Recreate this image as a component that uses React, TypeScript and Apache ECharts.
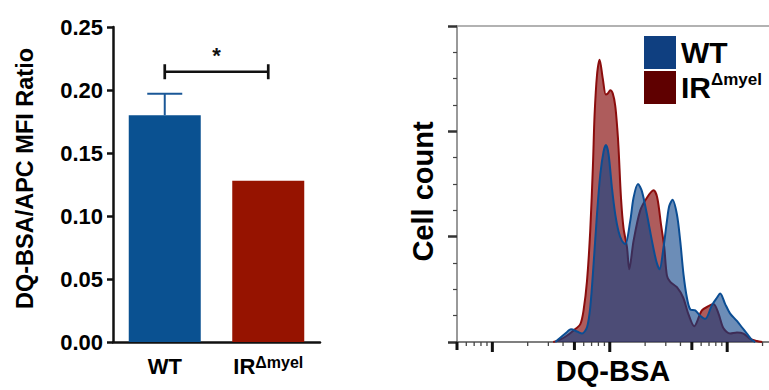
import React, { useEffect, useRef } from 'react';
import * as echarts from 'echarts';

const FONT = '"Liberation Sans", Arial, Helvetica, sans-serif';

// ---- Left panel: bar chart ----
const barCategories = ['WT', 'IRΔmyel'];
const barValues = [0.18, 0.128];
const barUpperErrors = [0.017, 0];
const barColors = ['#0a5191', '#961300'];
const sigPair = [0, 1];
const sigLevel = 0.2145;
const sigStarLevel = 0.227;
const sigLabel = '*';

// ---- Right panel: DQ-BSA histogram ----
const histSeriesNames = ['WT', 'IRΔmyel'];
// [DQ-BSA intensity, cell count]
const histWT: number[][] = [
  [344, 0], [379, 4], [418, 8], [468, 12], [526, 10], [580, 8], [640, 14], [682, 33],
  [728, 74], [778, 121], [830, 159], [886, 181], [929, 187], [977, 178], [1044, 146],
  [1114, 121], [1188, 105], [1270, 96], [1355, 93], [1494, 115], [1594, 137], [1738, 150],
  [1879, 143], [2073, 121], [2287, 96], [2487, 77], [2653, 69], [2870, 90], [3068, 115],
  [3209, 129], [3424, 135], [3732, 121], [3981, 96], [4248, 64], [4539, 42], [4843, 31],
  [5342, 30], [5891, 25], [6500, 22], [7413, 35], [8174, 42], [8718, 46], [9616, 36],
  [10605, 27], [12094, 20], [13340, 14], [14714, 8], [16233, 2], [17310, 0],
];
const histIR: number[][] = [
  [330, 0], [355, 1], [418, 5], [492, 11], [561, 17], [598, 30], [640, 58], [682, 106],
  [719, 168], [742, 215], [778, 253], [819, 268], [872, 250], [925, 235], [962, 236],
  [1009, 239], [1060, 236], [1114, 224], [1158, 203], [1188, 184], [1246, 137], [1310, 108],
  [1401, 90], [1466, 69], [1594, 96], [1818, 125], [2073, 137], [2359, 144], [2537, 137],
  [2728, 112], [2910, 90], [3068, 63], [3273, 57], [3732, 52], [4222, 42], [4656, 27],
  [5236, 15], [6090, 30], [6933, 34], [7645, 36], [8433, 27], [9300, 13], [10605, 8],
  [12094, 9], [13764, 8], [15693, 3], [17890, 1], [19859, 0],
];
const histMajorTicks = [100, 1000, 10000];
const histHalfTicks = [50, 500, 5000];
const histMinorTicks = [60, 70, 80, 90, 200, 300, 400, 600, 700, 800, 900, 2000, 3000, 4000, 6000, 7000, 8000, 9000, 20000];

const fmtLabel = (name: string) =>
  name.startsWith('IR') ? `{m|IR}{s|${name.slice(2)}}` : `{m|${name}}`;

export default function App() {
  const ref = useRef<HTMLDivElement>(null);

  useEffect(() => {
    if (!ref.current) return;
    const chart = echarts.init(ref.current, undefined, { renderer: 'svg' });

    const tickData = [
      ...histMajorTicks.map((v) => [v, 2]),
      ...histHalfTicks.map((v) => [v, 1]),
      ...histMinorTicks.map((v) => [v, 0]),
    ];

    const option: any = {
      animation: false,
      textStyle: { fontFamily: FONT },
      grid: [
        { left: 113, top: 27, width: 207, height: 315 },
        { left: 457, top: 26, right: 0, height: 319 },
      ],
      legend: {
        data: [
          { name: histSeriesNames[0], itemStyle: { color: '#0f3f80' } },
          { name: histSeriesNames[1], itemStyle: { color: '#5f0000' } },
        ],
        orient: 'vertical',
        left: 644,
        top: 36,
        padding: 0,
        itemWidth: 32,
        itemHeight: 33,
        itemGap: 2,
        icon: 'rect',
        selectedMode: false,
        formatter: fmtLabel,
        textStyle: {
          rich: {
            m: { fontSize: 30, fontWeight: 'bold', lineHeight: 33, color: '#000', fontFamily: FONT },
            s: { fontSize: 17, fontWeight: 'bold', lineHeight: 20, verticalAlign: 'top', color: '#000', fontFamily: FONT },
          },
        },
      },
      xAxis: [
        {
          type: 'category',
          gridIndex: 0,
          data: barCategories,
          axisLine: { onZero: false, lineStyle: { color: '#111', width: 2.5 } },
          axisTick: { alignWithLabel: true, length: 8, lineStyle: { color: '#111', width: 2.5 } },
          axisLabel: {
            interval: 0,
            margin: 12,
            formatter: fmtLabel,
            rich: {
              m: { fontSize: 22, fontWeight: 'bold', lineHeight: 24, color: '#000', fontFamily: FONT },
              s: { fontSize: 16, fontWeight: 'bold', lineHeight: 15, verticalAlign: 'top', color: '#000', fontFamily: FONT },
            },
          },
        },
        {
          type: 'log',
          gridIndex: 1,
          logBase: 10,
          min: 50,
          max: 22700,
          position: 'bottom',
          axisLine: { onZero: false, lineStyle: { color: '#555', width: 1.5 } },
          axisTick: { show: false },
          axisLabel: { show: false },
          splitLine: { show: false },
          name: 'DQ-BSA',
          nameLocation: 'middle',
          nameGap: 14,
          nameTextStyle: { fontSize: 29, fontWeight: 'bold', color: '#000', fontFamily: FONT },
        },
        {
          type: 'value',
          gridIndex: 1,
          position: 'top',
          min: 0,
          max: 1,
          axisLine: { show: true, onZero: false, lineStyle: { color: '#999', width: 1.5 } },
          axisTick: { show: false },
          axisLabel: { show: false },
          splitLine: { show: false },
        },
      ],
      yAxis: [
        {
          type: 'value',
          gridIndex: 0,
          min: 0,
          max: 0.25,
          interval: 0.05,
          axisLine: { show: true, onZero: false, lineStyle: { color: '#111', width: 2.5 } },
          axisTick: { show: true, length: 6, lineStyle: { color: '#111', width: 2.5 } },
          axisLabel: {
            margin: 10,
            formatter: (v: number) => v.toFixed(2),
            fontSize: 22,
            fontWeight: 'bold',
            color: '#000',
            fontFamily: FONT,
          },
          splitLine: { show: false },
          name: 'DQ-BSA/APC MFI Ratio',
          nameLocation: 'middle',
          nameGap: 76,
          nameTextStyle: { fontSize: 23.5, fontWeight: 'bold', color: '#000', fontFamily: FONT, padding: [0, 0, 0, 12] },
        },
        {
          type: 'value',
          gridIndex: 1,
          min: 0,
          max: 300,
          interval: 100,
          axisLine: { show: true, onZero: false, lineStyle: { color: '#777', width: 1.5 } },
          axisTick: { show: true, length: 9, lineStyle: { color: '#333', width: 2.5 } },
          minorTick: { show: true, splitNumber: 4, length: 4, lineStyle: { color: '#444', width: 1.2 } },
          axisLabel: { show: false },
          splitLine: { show: false },
          name: 'Cell count',
          nameLocation: 'middle',
          nameGap: 20,
          nameTextStyle: { fontSize: 29, fontWeight: 'bold', color: '#000', fontFamily: FONT, padding: [0, 15, 0, 0] },
        },
      ],
      series: [
        {
          type: 'bar',
          xAxisIndex: 0,
          yAxisIndex: 0,
          barWidth: 72,
          data: barValues.map((v, i) => ({ value: v, itemStyle: { color: barColors[i] } })),
        },
        {
          type: 'custom',
          xAxisIndex: 0,
          yAxisIndex: 0,
          z: 3,
          encode: { x: 0, y: [1, 2] },
          data: barValues
            .map((v, i) => [i, v, v + barUpperErrors[i]])
            .filter((d) => d[2] > d[1]),
          renderItem: (params: any, api: any) => {
            const i = api.value(0);
            const lo = api.coord([i, api.value(1)]);
            const hi = api.coord([i, api.value(2)]);
            const color = '#1a5797';
            return {
              type: 'group',
              children: [
                { type: 'line', shape: { x1: lo[0], y1: lo[1], x2: hi[0], y2: hi[1] }, style: { stroke: color, lineWidth: 2 } },
                { type: 'line', shape: { x1: hi[0] - 17.5, y1: hi[1], x2: hi[0] + 17.5, y2: hi[1] }, style: { stroke: color, lineWidth: 2 } },
              ],
            };
          },
        },
        {
          type: 'custom',
          xAxisIndex: 0,
          yAxisIndex: 0,
          z: 3,
          encode: { x: [0, 1], y: [2, 3] },
          data: [[sigPair[0], sigPair[1], sigLevel, sigStarLevel]],
          renderItem: (params: any, api: any) => {
            const y = api.value(2);
            const a = api.coord([api.value(0), y]);
            const b = api.coord([api.value(1), y]);
            const s = api.coord([api.value(0), api.value(3)]);
            const mid = (a[0] + b[0]) / 2;
            const st = { stroke: '#111', lineWidth: 2.7 };
            return {
              type: 'group',
              children: [
                { type: 'line', shape: { x1: a[0], y1: a[1], x2: b[0], y2: b[1] }, style: st },
                { type: 'line', shape: { x1: a[0], y1: a[1] - 7.5, x2: a[0], y2: a[1] + 7.5 }, style: st },
                { type: 'line', shape: { x1: b[0], y1: b[1] - 7.5, x2: b[0], y2: b[1] + 7.5 }, style: st },
                {
                  type: 'text',
                  x: mid,
                  y: s[1],
                  style: {
                    text: sigLabel,
                    fontSize: 22,
                    fontWeight: 'bold',
                    fontFamily: FONT,
                    fill: '#111',
                    align: 'center',
                    verticalAlign: 'middle',
                  },
                },
              ],
            };
          },
        },
        {
          type: 'line',
          name: histSeriesNames[1],
          xAxisIndex: 1,
          yAxisIndex: 1,
          data: histIR,
          smooth: 0.3,
          showSymbol: false,
          symbol: 'none',
          lineStyle: { color: '#8b0d0d', width: 2 },
          itemStyle: { color: '#5f0000' },
          areaStyle: { color: '#800000', opacity: 0.64 },
          z: 2,
        },
        {
          type: 'line',
          name: histSeriesNames[0],
          xAxisIndex: 1,
          yAxisIndex: 1,
          data: histWT,
          smooth: 0.3,
          showSymbol: false,
          symbol: 'none',
          lineStyle: { color: '#0b4d93', width: 2 },
          itemStyle: { color: '#0f3f80' },
          areaStyle: { color: '#0a4187', opacity: 0.6 },
          z: 3,
        },
        {
          type: 'custom',
          xAxisIndex: 1,
          yAxisIndex: 1,
          z: 5,
          encode: { x: 0, y: 1 },
          data: tickData,
          renderItem: (params: any, api: any) => {
            const v = api.value(0);
            const kind = api.value(1);
            const p = api.coord([v, 0]);
            const len = kind === 2 ? 10 : kind === 1 ? 8 : 4;
            const w = kind === 0 ? 1.3 : 3;
            return {
              type: 'rect',
              shape: { x: p[0] - w / 2, y: p[1], width: w, height: len },
              style: { fill: kind === 0 ? '#444' : '#111' },
            };
          },
        },
      ],
    };

    chart.setOption(option);
    return () => chart.dispose();
  }, []);

  return (
    <div
      ref={ref}
      style={{ position: 'absolute', left: 0, top: 0, width: 769, height: 390, background: '#fff' }}
    />
  );
}
